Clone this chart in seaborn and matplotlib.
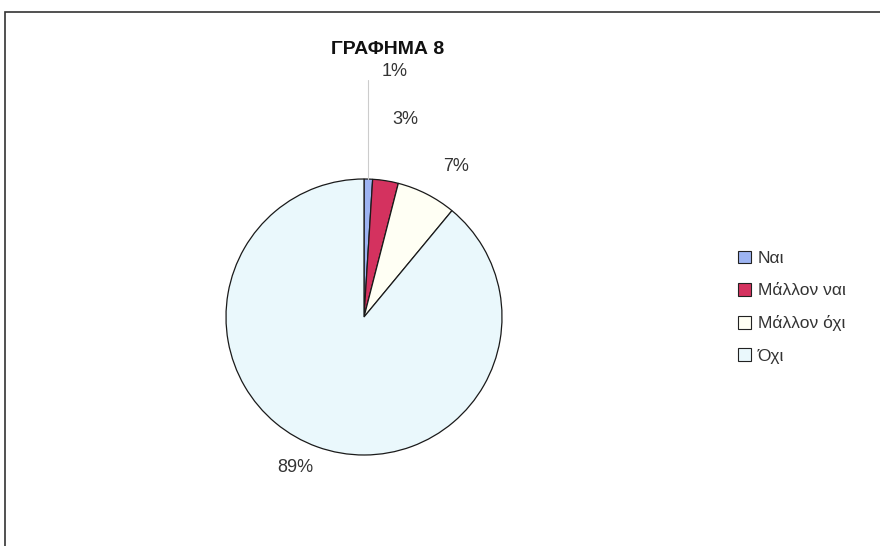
import matplotlib
matplotlib.use("Agg")
import matplotlib.pyplot as plt
import seaborn as sns
from matplotlib.patches import Patch, Rectangle

categories = ["Ναι", "Μάλλον ναι", "Μάλλον όχι", "Όχι"]
values = [1, 3, 7, 89]
pct_labels = ["1%", "3%", "7%", "89%"]
title = "ΓΡΑΦΗΜΑ 8"

colors = ["#9DB4F2", "#D4325F", "#FFFFF4", "#EAF8FC"]

sns.set_theme(style="white")
plt.rcParams["font.family"] = ["Liberation Sans", "DejaVu Sans"]

fig = plt.figure(figsize=(8.8, 5.46), dpi=100)
fig.patch.set_facecolor("white")

# outer frame
fig.patches.append(Rectangle((5 / 880, -0.05), 1.1, (546 - 12) / 546 + 0.05,
                             transform=fig.transFigure, fill=False,
                             edgecolor="#333333", linewidth=1.2))

ax = fig.add_axes([226 / 880, 91 / 546, 276 / 880, 276 / 546])
wedges, _ = ax.pie(values, colors=colors, startangle=90, counterclock=False,
                   radius=1.0,
                   wedgeprops=dict(edgecolor="#1a1a1a", linewidth=0.9))
ax.set_xlim(-1, 1)
ax.set_ylim(-1, 1)
ax.set_aspect("auto")
ax.axis("off")

label_pos = [(0.22, 1.78), (0.30, 1.43), (0.67, 1.09), (-0.50, -1.09)]
for (x, y), t in zip(label_pos, pct_labels):
    ax.text(x, y, t, ha="center", va="center", fontsize=13, color="#333333",
            clip_on=False)
# leader line for 1%
ax.plot([0.03, 0.03], [1.0, 1.72], color="#cccccc", linewidth=0.8, clip_on=False)

fig.text(388 / 880, 1 - 50 / 546, title, ha="center", va="center",
         fontsize=14, fontweight="bold", color="#111111")

handles = [Patch(facecolor=c, edgecolor="#222222", linewidth=0.8) for c in colors]
fig.legend(handles, categories, loc="upper left",
           bbox_to_anchor=(722 / 880, 1 - 235 / 546), frameon=False,
           fontsize=12.5, handlelength=0.75, handleheight=0.75,
           handletextpad=0.4, labelspacing=0.98, labelcolor="#333333")

fig.savefig("out.png", dpi=100, facecolor="white")
